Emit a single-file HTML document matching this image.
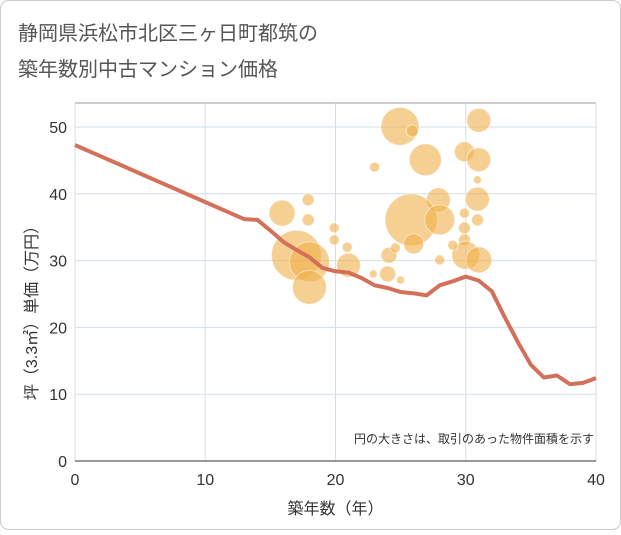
<!DOCTYPE html>
<html><head><meta charset="utf-8">
<style>
body{margin:0;background:#fff;}
#wrap{width:621px;height:530px;position:relative;font-family:"Liberation Sans","Noto Sans CJK JP",sans-serif;}
</style></head><body>
<div id="wrap">
<svg id="chart" width="621" height="530"></svg>
</div>
<script>
const xTicks=[0,10,20,30,40];
const yTicks=[0,10,20,30,40,50];
const lineX=[0,13,14,15,16,17,18,19,20,21,22,23,24,25,26,27,28,29,30,31,32,33,34,35,36,37,38,39,40];
const lineY=[47.3,36.2,36.1,34.5,32.8,31.6,30.5,28.9,28.4,28.2,27.4,26.3,25.9,25.3,25.1,24.8,26.3,26.9,27.6,27.0,25.4,21.5,17.8,14.4,12.5,12.8,11.5,11.7,12.4];
const bubX=[24.95,25.9,31.0,26.9,29.9,31.0,23.0,30.9,30.9,17.9,15.9,27.9,25.8,28.0,29.9,30.9,17.9,17.0,18.0,18.0,19.9,20.9,19.9,24.1,24.6,24.0,21.0,22.9,25.0,28.0,29.9,29.9,30.0,31.0,26.0,29.0];
const bubY=[50.1,49.4,51.0,45.1,46.3,45.1,44.0,42.1,39.2,39.1,37.1,39.1,36.1,36.1,37.1,36.1,36.1,30.8,29.8,26.0,34.9,32.0,33.1,30.8,31.9,28.0,29.3,28.0,27.1,30.1,33.1,34.9,30.8,30.1,32.5,32.3];
const bubArea=[361,36,144,256,100,144,25,16,144,36,169,144,676,225,25,36,36,625,400,289,25,25,25,64,25,64,144,16,16,25,36,36,196,169,100,25];
const NS="http://www.w3.org/2000/svg";
const svgEl=document.getElementById('chart');
const X0=75,X1=596,Y0=461,Y1=127;
const sx=v=>X0+(v-0)/(40-0)*(X1-X0);
const sy=v=>Y0-(v-0)/(50-0)*(Y0-Y1);
function mk(t,a){const e=document.createElementNS(NS,t);for(const k in a)e.setAttribute(k,a[k]);svgEl.appendChild(e);return e;}
const bg=mk('rect',{x:0.5,y:0.5,width:620,height:529,rx:8,fill:'#fff',stroke:'#ccc'});


const t1=mk('text',{x:18,y:40,'font-size':20,fill:'#555'});t1.textContent='静岡県浜松市北区三ヶ日町都筑の';


const t2=mk('text',{x:18,y:76,'font-size':20,fill:'#555'});t2.textContent='築年数別中古マンション価格';


const topBorder=mk('line',{x1:X0,x2:X1,y1:103,y2:103,stroke:'#bbb','stroke-width':1.5});


xTicks.forEach(v=>{const g=mk('line',{x1:sx(v),x2:sx(v),y1:103,y2:Y0,stroke:'#d5dfe9'});


const t=mk('text',{x:sx(v),y:Y0+24,'font-size':16,fill:'#333','text-anchor':'middle'});t.textContent=v;

});
yTicks.forEach(v=>{const g=mk('line',{x1:X0,x2:X1,y1:sy(v),y2:sy(v),stroke:'#d5dfe9'});


const t=mk('text',{x:X0-8,y:sy(v)+6,'font-size':16,fill:'#333','text-anchor':'end'});t.textContent=v;

});
bubX.forEach((v,i)=>{const c=mk('circle',{cx:sx(v),cy:sy(bubY[i]),r:Math.sqrt(bubArea[i]),fill:'#f0b04a','fill-opacity':0.6,stroke:'#fff','stroke-opacity':0.5});

});
const pl=mk('polyline',{points:lineX.map((v,i)=>sx(v)+','+sy(lineY[i])).join(' '),fill:'none',stroke:'#d4705a','stroke-width':4,'stroke-linejoin':'round'});


const xa=mk('line',{x1:X0,x2:X1,y1:Y0,y2:Y0,stroke:'#333'});


const note=mk('text',{x:594,y:443,'font-size':12,fill:'#333','text-anchor':'end'});note.textContent='円の大きさは、取引のあった物件面積を示す';


const xt=mk('text',{x:(X0+X1)/2,y:514,'font-size':16,fill:'#333','text-anchor':'middle'});xt.textContent='築年数（年）';


const yt=mk('text',{x:0,y:0,'font-size':16,fill:'#333','text-anchor':'middle',transform:'translate(37,'+((Y0+Y1)/2+15)+') rotate(-90)'});yt.textContent='坪（3.3㎡）単価（万円）';


</script>
</body></html>
